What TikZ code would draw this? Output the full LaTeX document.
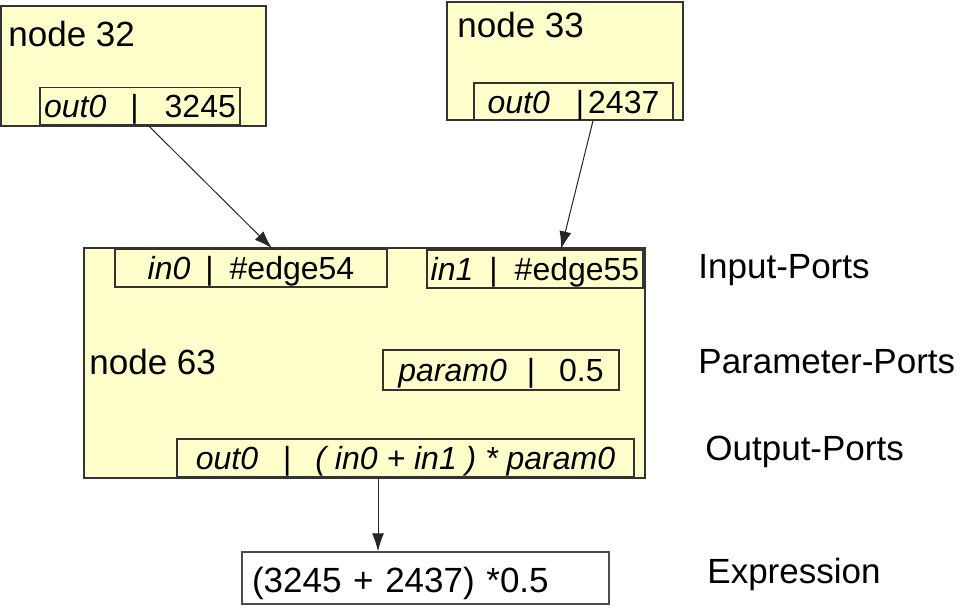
\documentclass[tikz,border=0pt]{standalone}
\usepackage{fontspec}
\setmainfont{Liberation Sans}
\usetikzlibrary{arrows.meta}
\definecolor{nodefill}{RGB}{255,255,204}

\begin{document}
\begin{tikzpicture}[x=0.5pt,y=-0.5pt,>={Latex[length=9pt,width=6pt]},
  nodebox/.style={draw=black!80,fill=nodefill,line width=0.8pt,inner sep=0pt},
  portbox/.style={draw=black!80,fill=nodefill,line width=0.7pt,inner sep=0pt,
    text height=11.5pt,text depth=0pt,font=\fontsize{16}{19}\selectfont},
  title/.style={inner sep=0pt,anchor=base west,font=\fontsize{17.5}{21}\selectfont},
  exprbox/.style={draw=black!70,fill=white,line width=0.7pt,inner xsep=5pt,
    text width=173.5pt,align=left,text height=14pt,text depth=0pt,
    minimum height=26pt,font=\fontsize{17.5}{21}\selectfont},
  wire/.style={->,line width=0.5pt,black!85}]
  \useasboundingbox (0,0) rectangle (962,610);
  % source nodes
  \node[nodebox,minimum width=132.5pt,minimum height=60pt] (n32) at (133.5,66) {};
  \node[title] (t32) at (8,47) {node 32};
  \node[portbox,minimum width=100pt,minimum height=18.5pt] (o32) at (140,106)
    {\textit{out0}\hspace{12pt}|\hspace{13pt}3245};
  \node[nodebox,minimum width=118pt,minimum height=59pt] (n33) at (565,61) {};
  \node[title] (t33) at (457,38) {node 33};
  \node[portbox,minimum width=99.5pt,minimum height=18.5pt] (o33) at (573.5,101.5)
    {\textit{out0}\hspace{13pt}|\hspace{2pt}2437};
  % operator node
  \node[nodebox,minimum width=280.5pt,minimum height=115pt] (n63) at (364.5,363) {};
  \node[title] (t63) at (89,374) {node 63};
  \node[portbox,minimum width=136pt,minimum height=19pt] (in0) at (251,268)
    {\textit{in0}\hspace{7.5pt}|\hspace{8pt}\#edge54};
  \node[portbox,minimum width=108pt,minimum height=19pt] (in1) at (535,269)
    {\textit{in1}\hspace{8pt}|\hspace{8.5pt}\#edge55};
  \node[portbox,minimum width=118pt,minimum height=20pt] (p0) at (501,370)
    {\textit{param0}\hspace{10pt}|\hspace{12pt}0.5};
  \node[portbox,minimum width=228.5pt,minimum height=19pt] (o63) at (405.5,458)
    {\textit{out0}\hspace{12.5pt}|\hspace{12pt}\textit{( in0 + in1 ) * param0}};
  % result
  \node[exprbox] (expr) at (425.5,578) {(3245 + 2437) *0.5};
  % port kinds
  \node[title] (lin) at (698,278) {Input-Ports};
  \node[title] (lpar) at (698,373) {Parameter-Ports};
  \node[title] (lout) at (705,460) {Output-Ports};
  \node[title] (lexp) at (707,583) {Expression};
  \draw[wire] ([xshift=4pt]o32.south) -- ([xshift=10.5pt]in0.north);
  \draw[wire] ([xshift=9.75pt]o33.south) -- ([xshift=13pt]in1.north);
  \draw[wire] ([xshift=-13.75pt]o63.south) -- ([xshift=-13.75pt]o63.south |- expr.north);
\end{tikzpicture}
\end{document}
